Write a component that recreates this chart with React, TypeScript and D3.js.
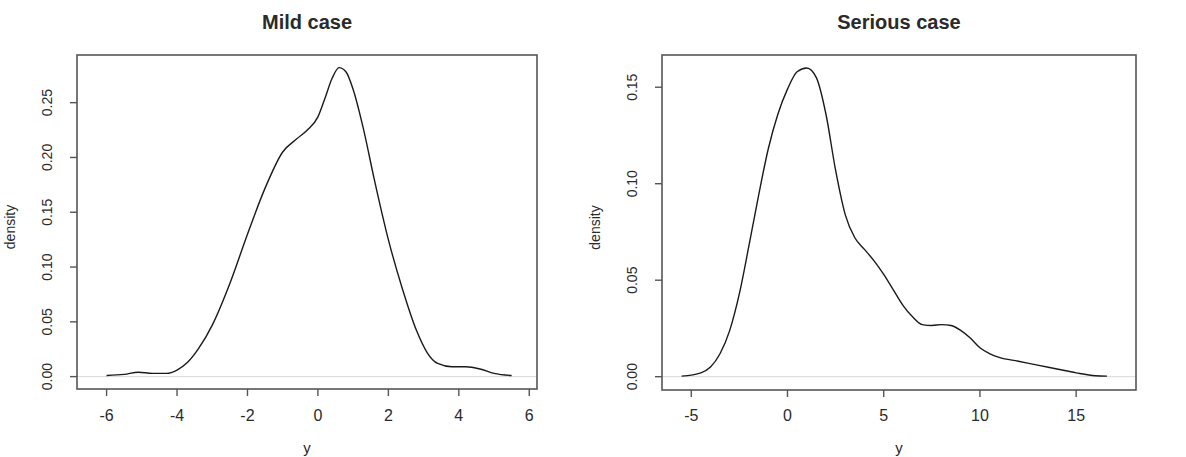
import React from "react";
import * as d3 from "d3";

const mildX = [-6.0, -5.5, -5.1, -4.7, -4.3, -4.0, -3.7, -3.4, -3.0, -2.5, -2.0, -1.5, -1.0, -0.6, -0.3, 0.0, 0.2, 0.4, 0.6, 0.8, 1.0, 1.3, 1.6, 2.0, 2.4, 2.8, 3.1, 3.4, 3.8, 4.2, 4.6, 5.0, 5.5];
const mildY = [0.001, 0.002, 0.004, 0.003, 0.003, 0.006, 0.013, 0.025, 0.047, 0.085, 0.13, 0.172, 0.205, 0.217, 0.225, 0.237, 0.254, 0.272, 0.282, 0.278, 0.262, 0.225, 0.18, 0.125, 0.08, 0.042, 0.022, 0.012, 0.009, 0.009, 0.007, 0.003, 0.001];

const seriousX = [-5.5, -4.5, -4.0, -3.5, -3.0, -2.5, -2.0, -1.5, -1.0, -0.5, 0.0, 0.5, 1.0, 1.5, 2.0, 2.5, 3.0, 3.5, 4.0, 4.5, 5.0, 5.5, 6.0, 6.5, 7.0, 7.5, 8.0, 8.5, 9.0, 9.5, 10.0, 10.5, 11.0, 12.0, 13.0, 14.0, 15.0, 16.0, 16.6];
const seriousY = [0.0003, 0.002, 0.005, 0.012, 0.024, 0.043, 0.068, 0.094, 0.118, 0.136, 0.149, 0.158, 0.16, 0.155, 0.136, 0.107, 0.084, 0.072, 0.066, 0.06, 0.053, 0.045, 0.037, 0.031, 0.027, 0.0265, 0.027, 0.0265, 0.024, 0.02, 0.015, 0.012, 0.01, 0.008, 0.006, 0.004, 0.002, 0.0005, 0.0003];

const mildXTicks = [-6, -4, -2, 0, 2, 4, 6];
const mildYTicks = [0, 0.05, 0.1, 0.15, 0.2, 0.25];
const seriousXTicks = [-5, 0, 5, 10, 15];
const seriousYTicks = [0, 0.05, 0.1, 0.15];

const titles = ["Mild case", "Serious case"];

type Panel = {
  title: string;
  xs: number[];
  ys: number[];
  xTicks: number[];
  yTicks: number[];
  xDomain: [number, number];
  yDomain: [number, number];
  left: number;
  right: number;
  top: number;
  bottom: number;
};

const panels: Panel[] = [
  {
    title: titles[0],
    xs: mildX,
    ys: mildY,
    xTicks: mildXTicks,
    yTicks: mildYTicks,
    xDomain: [-6.84, 6.22],
    yDomain: [-0.0113, 0.2935],
    left: 77,
    right: 537,
    top: 55,
    bottom: 389,
  },
  {
    title: titles[1],
    xs: seriousX,
    ys: seriousY,
    xTicks: seriousXTicks,
    yTicks: seriousYTicks,
    xDomain: [-6.52, 18.11],
    yDomain: [-0.0069, 0.1667],
    left: 662,
    right: 1136,
    top: 55,
    bottom: 390,
  },
];

const FONT = "'Liberation Sans', Arial, Helvetica, sans-serif";
const TEXT = "#2a2a2a";

function PanelView({ p }: { p: Panel }) {
  const x = d3.scaleLinear().domain(p.xDomain).range([p.left, p.right]);
  const y = d3.scaleLinear().domain(p.yDomain).range([p.bottom, p.top]);
  const pts: [number, number][] = p.xs.map((v, i) => [v, p.ys[i]]);
  const line = d3
    .line<[number, number]>()
    .x((d) => x(d[0]))
    .y((d) => y(d[1]))
    .curve(d3.curveMonotoneX);
  const cx = (p.left + p.right) / 2;
  const cy = (p.top + p.bottom) / 2;
  const fmt = d3.format(".2f");
  const yLabelX = p.left - 30;
  return (
    <g>
      <text x={cx} y={29} textAnchor="middle" fontFamily={FONT} fontWeight="bold" fontSize={20} fill={TEXT}>
        {p.title}
      </text>
      <line x1={p.left} x2={p.right} y1={y(0)} y2={y(0)} stroke="#d8d8d8" strokeWidth={1} />
      <path d={line(pts) || ""} fill="none" stroke="#1a1a1a" strokeWidth={1.4} />
      <rect x={p.left} y={p.top} width={p.right - p.left} height={p.bottom - p.top} fill="none" stroke="#555" strokeWidth={1.6} />
      {p.xTicks.map((t) => (
        <g key={"x" + t}>
          <line x1={x(t)} x2={x(t)} y1={p.bottom} y2={p.bottom + 7} stroke="#555" strokeWidth={1.4} />
          <text x={x(t)} y={421} textAnchor="middle" fontFamily={FONT} fontSize={16} fill={TEXT}>
            {String(t)}
          </text>
        </g>
      ))}
      {p.yTicks.map((t) => (
        <g key={"y" + t}>
          <line x1={p.left - 7} x2={p.left} y1={y(t)} y2={y(t)} stroke="#555" strokeWidth={1.4} />
          <text
            transform={`translate(${yLabelX + 5},${y(t)}) rotate(-90)`}
            textAnchor="middle"
            fontFamily={FONT}
            fontSize={14}
            fill={TEXT}
          >
            {fmt(t)}
          </text>
        </g>
      ))}
      <text x={cx} y={453} textAnchor="middle" fontFamily={FONT} fontSize={15} fill={TEXT}>
        y
      </text>
      <text
        transform={`translate(${p.left - 62},${cy + 5}) rotate(-90)`}
        textAnchor="middle"
        fontFamily={FONT}
        fontSize={14}
        fill={TEXT}
      >
        density
      </text>
    </g>
  );
}

export default function App() {
  return (
    <svg
      width={1186}
      height={457}
      style={{ position: "absolute", left: 0, top: 0, background: "#fff" }}
    >
      <rect x={0} y={0} width={1186} height={457} fill="#fff" />
      {panels.map((p) => (
        <PanelView key={p.title} p={p} />
      ))}
    </svg>
  );
}
